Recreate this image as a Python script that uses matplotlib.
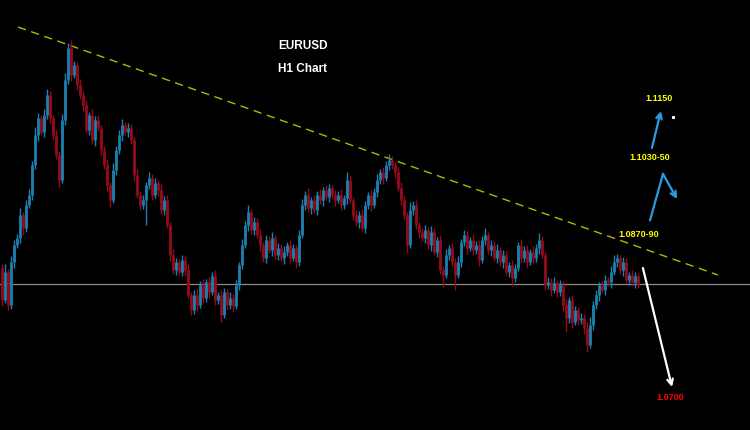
import matplotlib
matplotlib.use("Agg")
import matplotlib.pyplot as plt
import numpy as np

# ---- data (EURUSD H1) ----
first_open = 1.0816
closes = [
    1.0784, 1.0812, 1.0779, 1.0822, 1.0839, 1.0846, 1.0869, 1.0856, 1.0879, 1.0889,
    1.0919, 1.0949, 1.0966, 1.0952, 1.0969, 1.0989, 1.0966, 1.0949, 1.0929, 1.0904,
    1.0964, 1.1004, 1.1036, 1.1009, 1.1019, 1.0999, 1.0989, 1.0979, 1.0954, 1.0969,
    1.0944, 1.0964, 1.0956, 1.0934, 1.0919, 1.0899, 1.0884, 1.0914, 1.0934, 1.0949,
    1.0959, 1.0952, 1.0956, 1.0944, 1.0909, 1.0889, 1.0879, 1.0884, 1.0899, 1.0906,
    1.0889, 1.0901, 1.0894, 1.0874, 1.0884, 1.0859, 1.0829, 1.0814, 1.0822, 1.0812,
    1.0824, 1.0814, 1.0789, 1.0774, 1.0789, 1.0779, 1.0799, 1.0786, 1.0802, 1.0792,
    1.0808, 1.0784, 1.0789, 1.0769, 1.0792, 1.0779, 1.0786, 1.0778, 1.0799, 1.0819,
    1.0839, 1.0859, 1.0872, 1.0854, 1.0862, 1.0849, 1.0839, 1.0826, 1.0844, 1.0834,
    1.0846, 1.0829, 1.0836, 1.0826, 1.0832, 1.0839, 1.0826, 1.0836, 1.0822, 1.0849,
    1.0879, 1.0889, 1.0876, 1.0884, 1.0874, 1.0889, 1.0884, 1.0894, 1.0887, 1.0896,
    1.0889, 1.0884, 1.0889, 1.0879, 1.0886, 1.0904, 1.0884, 1.0869, 1.0862, 1.0869,
    1.0856, 1.0879, 1.0889, 1.0879, 1.0892, 1.0904, 1.0912, 1.0906, 1.0919, 1.0924,
    1.0919, 1.0912, 1.0896, 1.0884, 1.0869, 1.0839, 1.0874, 1.0879, 1.0859, 1.0852,
    1.0846, 1.0854, 1.0839, 1.0852, 1.0832, 1.0844, 1.0814, 1.0809, 1.0829, 1.0836,
    1.0822, 1.0809, 1.0822, 1.0842, 1.0849, 1.0836, 1.0844, 1.0834, 1.0839, 1.0824,
    1.0844, 1.0849, 1.0834, 1.0839, 1.0826, 1.0834, 1.0822, 1.0829, 1.0812, 1.0819,
    1.0806, 1.0816, 1.0839, 1.0826, 1.0834, 1.0822, 1.0832, 1.0826, 1.0836, 1.0844,
    1.0829, 1.0799, 1.0802, 1.0794, 1.0801, 1.0792, 1.0799, 1.0779, 1.0766, 1.0784,
    1.0762, 1.0774, 1.0764, 1.0766, 1.0756, 1.0739, 1.0759, 1.0779, 1.0789, 1.0799,
    1.0794, 1.0804, 1.0802, 1.0812, 1.0822, 1.0826, 1.0814, 1.0822, 1.0804, 1.0809,
    1.0802, 1.0808, 1.0799,
]
# upper / lower wick lengths in pips beyond the candle body
upper_wick = [
    4, 8, 3, 6, 5, 4, 7, 3, 5, 6,
    4, 8, 5, 3, 6, 6, 4, 3, 5, 4,
    6, 7, 5, 8, 4, 3, 6, 4, 5, 3,
    6, 4, 5, 3, 4, 6, 3, 7, 4, 5,
    6, 3, 5, 4, 3, 6, 4, 5, 3, 6,
    4, 5, 3, 6, 4, 5, 3, 6, 4, 3,
    5, 4, 6, 3, 5, 7, 4, 6, 3, 5,
    4, 6, 3, 5, 4, 3, 6, 4, 5, 3,
    6, 4, 7, 3, 5, 4, 6, 3, 5, 4,
    6, 3, 5, 4, 6, 3, 5, 4, 3, 5,
    6, 4, 7, 3, 5, 4, 6, 3, 5, 4,
    3, 5, 4, 6, 3, 8, 4, 3, 5, 4,
    6, 4, 3, 5, 4, 6, 3, 5, 4, 6,
    4, 3, 5, 6, 4, 3, 8, 4, 5, 3,
    4, 5, 3, 6, 4, 3, 5, 4, 6, 3,
    5, 4, 6, 3, 5, 4, 3, 6, 4, 5,
    4, 7, 3, 5, 4, 6, 3, 5, 4, 3,
    5, 4, 3, 6, 4, 5, 3, 6, 4, 7,
    4, 3, 5, 4, 6, 3, 5, 4, 6, 3,
    5, 4, 3, 5, 4, 6, 8, 4, 5, 3,
    4, 5, 3, 6, 7, 4, 3, 5, 4, 3,
    5, 4, 3,
]
lower_wick = [
    6, 3, 5, 4, 6, 3, 5, 7, 4, 3,
    5, 4, 6, 3, 5, 4, 6, 5, 4, 7,
    3, 5, 4, 6, 3, 5, 4, 6, 3, 5,
    4, 6, 3, 5, 4, 6, 7, 3, 5, 4,
    6, 3, 5, 4, 6, 3, 5, 4, 25, 4,
    5, 3, 6, 4, 5, 3, 6, 4, 5, 3,
    4, 6, 3, 5, 4, 6, 3, 5, 4, 6,
    3, 5, 4, 7, 3, 5, 4, 6, 3, 5,
    4, 3, 6, 4, 5, 3, 6, 4, 5, 3,
    6, 4, 5, 3, 6, 4, 5, 3, 6, 4,
    3, 5, 4, 6, 3, 5, 4, 6, 3, 5,
    4, 6, 3, 5, 4, 6, 3, 5, 4, 6,
    3, 5, 4, 6, 3, 5, 4, 6, 3, 5,
    4, 6, 3, 5, 4, 8, 3, 5, 4, 6,
    3, 5, 4, 6, 3, 5, 4, 12, 3, 5,
    4, 15, 3, 5, 4, 6, 3, 5, 4, 6,
    3, 5, 4, 6, 3, 5, 4, 6, 3, 5,
    8, 4, 3, 5, 4, 6, 3, 5, 4, 6,
    3, 5, 4, 6, 3, 5, 4, 6, 14, 5,
    6, 3, 5, 4, 6, 7, 3, 5, 4, 6,
    3, 5, 4, 6, 3, 5, 4, 6, 3, 5,
    4, 6, 3,
]
title_lines = ["EURUSD", "H1 Chart"]
level_price = 1.0800
trend_start = (5.5, 1.1057)
trend_end = (238.8, 1.0809)
target_labels = ["1.1150", "1.1030-50", "1.0870-90", "1.0700"]

# ---- figure ----
fig = plt.figure(figsize=(7.5, 4.3), dpi=100, facecolor="black")
ax = fig.add_axes([0, 0, 1, 1])
ax.set_facecolor("black")
ax.set_xlim(-0.5, 249.5)
ax.set_ylim(1.0654, 1.1084)
ax.axis("off")

n = len(closes)
opens = [first_open] + closes[:-1]
x = np.arange(n)
o = np.array(opens)
c = np.array(closes)
top = np.maximum(o, c)
bot = np.minimum(o, c)
hi = top + np.array(upper_wick[:n]) * 0.0001
lo = bot - np.array(lower_wick[:n]) * 0.0001
up = c >= o
blue = "#1c80b0"
red = "#960a1a"
ax.vlines(x[up], lo[up], hi[up], colors=blue, linewidth=1.0, zorder=3)
ax.vlines(x[~up], lo[~up], hi[~up], colors=red, linewidth=1.0, zorder=3)
ax.vlines(x[up], bot[up], top[up], colors=blue, linewidth=2.0, zorder=3)
ax.vlines(x[~up], bot[~up], top[~up], colors=red, linewidth=2.0, zorder=3)

# horizontal level
ax.axhline(level_price, color="#8a8a8a", linewidth=0.9, zorder=2)

# trend line
ax.plot([trend_start[0], trend_end[0]], [trend_start[1], trend_end[1]],
        color="#b8b400", linewidth=1.0, linestyle=(0, (6, 4)), zorder=2)

# titles
ax.text(100.5, 1.1038, title_lines[0], color="white", fontsize=8.5,
        fontweight="bold", ha="center", va="center", family="Liberation Sans")
ax.text(100.5, 1.1015, title_lines[1], color="white", fontsize=8.5,
        fontweight="bold", ha="center", va="center", family="Liberation Sans")

# arrows
arrow_blue = "#2b9ce0"
ax.plot([216.2, 220.5], [1.0864, 1.0910], color=arrow_blue, linewidth=1.6, zorder=4)
ax.annotate("", xy=(225.2, 1.0885), xytext=(220.5, 1.0910),
            arrowprops=dict(arrowstyle="->", color=arrow_blue, lw=1.6,
                            mutation_scale=10, shrinkA=0, shrinkB=0))
ax.annotate("", xy=(219.8, 1.0973), xytext=(216.8, 1.0936),
            arrowprops=dict(arrowstyle="->", color=arrow_blue, lw=1.6,
                            mutation_scale=10, shrinkA=0, shrinkB=0))
ax.annotate("", xy=(223.5, 1.0697), xytext=(213.8, 1.0816),
            arrowprops=dict(arrowstyle="->", color="white", lw=1.6,
                            mutation_scale=10, shrinkA=0, shrinkB=0))
ax.plot([223.8], [1.0967], marker="s", markersize=1.2, color="white", zorder=4)

# target labels
lab_kw = dict(fontsize=6.5, fontweight="bold", ha="center", va="center",
              family="Liberation Sans")
ax.text(219.2, 1.0986, target_labels[0], color="#ffff00", **lab_kw)
ax.text(216.2, 1.0927, target_labels[1], color="#ffff00", **lab_kw)
ax.text(212.5, 1.0850, target_labels[2], color="#ffff00", **lab_kw)
ax.text(222.8, 1.0687, target_labels[3], color="#ff0000", **lab_kw)

fig.savefig("out.png", dpi=100, facecolor="black")
